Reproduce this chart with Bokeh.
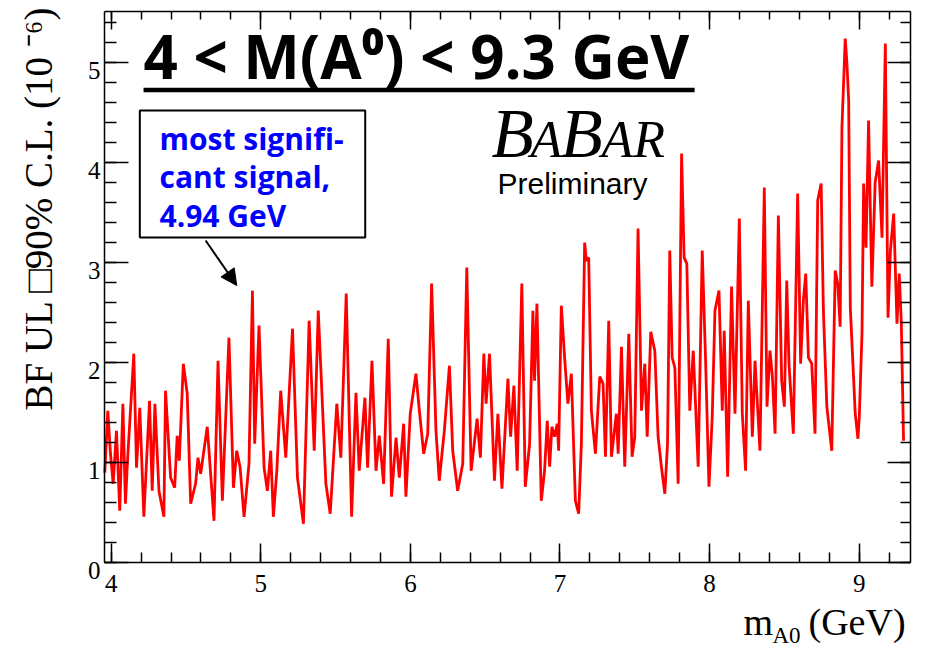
import math
from bokeh.plotting import figure
from bokeh.models import (Range1d, LinearAxis, SingleIntervalTicker, Label, LabelSet,
                          BoxAnnotation, Arrow, NormalHead, CustomLabelingPolicy,
                          ColumnDataSource)
from bokeh.embed import file_html
from bokeh.resources import INLINE

# ---- data (mass in GeV, BF upper limit in 1e-6) ----
mass = [
    3.957, 3.977, 3.995, 4.013, 4.035, 4.057, 4.078, 4.095, 4.110, 4.151,
    4.169, 4.191, 4.218, 4.256, 4.274, 4.292, 4.319, 4.352, 4.363, 4.397,
    4.424, 4.441, 4.455, 4.482, 4.508, 4.531, 4.564, 4.580, 4.598, 4.642,
    4.687, 4.714, 4.743, 4.787, 4.817, 4.839, 4.861, 4.888, 4.921, 4.944,
    4.959, 4.988, 5.022, 5.044, 5.066, 5.084, 5.107, 5.133, 5.167, 5.212,
    5.245, 5.285, 5.323, 5.357, 5.384, 5.401, 5.435, 5.464, 5.508, 5.535,
    5.571, 5.607, 5.636, 5.658, 5.696, 5.714, 5.743, 5.770, 5.792, 5.821,
    5.852, 5.874, 5.904, 5.926, 5.955, 5.970, 5.999, 6.037, 6.060, 6.089,
    6.116, 6.142, 6.171, 6.193, 6.227, 6.261, 6.283, 6.316, 6.350, 6.377,
    6.406, 6.446, 6.468, 6.491, 6.506, 6.529, 6.562, 6.585, 6.612, 6.652,
    6.670, 6.692, 6.714, 6.745, 6.768, 6.797, 6.819, 6.830, 6.846, 6.875,
    6.897, 6.915, 6.931, 6.946, 6.964, 6.982, 6.991, 7.009, 7.031, 7.053,
    7.076, 7.103, 7.125, 7.143, 7.165, 7.176, 7.192, 7.210, 7.237, 7.266,
    7.288, 7.304, 7.326, 7.344, 7.377, 7.389, 7.411, 7.433, 7.460, 7.482,
    7.500, 7.522, 7.545, 7.567, 7.583, 7.607, 7.634, 7.656, 7.678, 7.701,
    7.719, 7.734, 7.750, 7.768, 7.790, 7.813, 7.830, 7.848, 7.868, 7.891,
    7.924, 7.951, 7.973, 7.996, 8.018, 8.036, 8.063, 8.085, 8.098, 8.121,
    8.147, 8.170, 8.199, 8.219, 8.241, 8.259, 8.286, 8.304, 8.337, 8.366,
    8.384, 8.404, 8.420, 8.438, 8.460, 8.482, 8.500, 8.516, 8.531, 8.560,
    8.589, 8.609, 8.627, 8.643, 8.661, 8.683, 8.705, 8.723, 8.746, 8.761,
    8.784, 8.817, 8.840, 8.857, 8.873, 8.885, 8.907, 8.918, 8.930, 8.941,
    8.974, 8.992, 9.001, 9.019, 9.030, 9.046, 9.063, 9.085, 9.107, 9.130,
    9.153, 9.175, 9.193, 9.209, 9.231, 9.253, 9.268, 9.282, 9.297,
]
bf_ul = [
    0.90, 1.52, 1.09, 0.79, 1.32, 0.52, 1.59, 0.59, 1.05, 2.09,
    0.95, 1.55, 0.46, 1.62, 0.72, 1.59, 0.72, 0.46, 1.72, 0.85,
    0.75, 1.27, 1.02, 1.99, 1.69, 0.59, 0.79, 1.05, 0.89, 1.36,
    0.42, 2.02, 0.62, 2.25, 0.75, 1.12, 0.96, 0.46, 0.99, 2.72,
    1.19, 2.37, 0.95, 0.72, 1.12, 0.46, 0.92, 1.72, 1.05, 2.34,
    0.85, 0.39, 2.42, 1.12, 2.52, 1.95, 0.79, 0.49, 1.59, 1.05,
    2.69, 0.46, 1.70, 0.92, 1.65, 0.95, 2.02, 0.92, 1.27, 0.79,
    2.24, 0.66, 1.25, 0.85, 1.39, 0.66, 1.49, 1.89, 1.52, 1.09,
    1.29, 2.79, 1.32, 0.82, 1.32, 1.97, 1.12, 0.72, 0.99, 2.95,
    0.92, 1.44, 1.05, 2.09, 1.59, 2.09, 0.82, 1.49, 0.74, 1.84,
    1.26, 1.77, 0.92, 2.79, 0.76, 1.19, 2.52, 1.82, 2.59, 0.62,
    0.92, 1.42, 0.96, 1.36, 1.26, 1.39, 1.12, 2.57, 2.05, 1.59,
    1.89, 0.62, 0.49, 1.19, 3.20, 3.02, 3.05, 1.52, 1.09, 1.86,
    1.79, 1.06, 2.42, 1.06, 1.49, 1.09, 2.16, 0.96, 2.29, 1.06,
    1.26, 3.34, 1.52, 1.99, 1.26, 2.31, 2.12, 1.26, 0.96, 0.69,
    1.19, 3.12, 2.05, 1.95, 0.79, 4.09, 3.05, 2.99, 1.52, 2.12,
    0.96, 3.12, 2.05, 0.76, 1.46, 2.52, 2.72, 1.52, 2.32, 0.86,
    2.76, 1.49, 3.44, 1.49, 0.92, 2.62, 1.26, 2.02, 1.12, 3.75,
    1.56, 2.12, 1.86, 1.29, 3.47, 1.82, 1.56, 2.82, 1.99, 1.29,
    3.69, 1.99, 2.62, 2.89, 2.05, 1.99, 1.29, 3.62, 3.79, 2.52,
    1.56, 1.12, 2.92, 2.79, 2.36, 4.35, 5.24, 5.00, 4.62, 2.55,
    1.49, 1.24, 1.46, 2.29, 3.79, 3.15, 4.42, 2.76, 3.80, 4.02,
    3.25, 5.19, 2.45, 3.12, 3.49, 2.39, 2.89, 2.39, 1.22,
]
y_tick_values = [0, 1, 2, 3, 4, 5]
y_tick_labels = ["0", "1", "2", "3", "4", "5"]

# axis limits of the drawn frame
x_lo, x_hi = 3.955, 9.34
y_lo, y_hi = 0.0, 5.51

# page geometry (pixels): the plot area covers the whole canvas, the ROOT-like
# frame is drawn with axes fixed at the data limits
W, H = 933, 650
F_L, F_R, F_T, F_B = 104.0, 909.5, 11.0, 562.3
dx = (x_hi - x_lo) / (F_R - F_L)
dy = (y_hi - y_lo) / (F_B - F_T)
xr = Range1d(x_lo - F_L * dx, x_hi + (W - F_R) * dx)
yr = Range1d(y_lo - (H - F_B) * dy, y_hi + F_T * dy)

SERIF = "Liberation Serif"

p = figure(width=W, height=H, output_backend="svg", toolbar_location=None,
           x_range=xr, y_range=yr, x_axis_location=None, y_axis_location=None,
           min_border=0)
p.grid.visible = False
p.background_fill_color = "white"
p.border_fill_color = "white"
p.outline_line_color = None

hide_all = CustomLabelingPolicy(code="""
for (const i of indices) { indices.unset(i) }
return indices
""")


def make_axis(loc, bounds, major, minor, show_labels, standoff):
    ax = LinearAxis(ticker=SingleIntervalTicker(interval=1, num_minor_ticks=5),
                    fixed_location=loc, bounds=bounds)
    ax.axis_line_color = "black"
    ax.axis_line_width = 1.5
    ax.major_tick_line_color = "black"
    ax.minor_tick_line_color = "black"
    ax.major_tick_line_width = 1.5
    ax.minor_tick_line_width = 1.5
    ax.major_tick_in = major
    ax.major_tick_out = 0
    ax.minor_tick_in = minor
    ax.minor_tick_out = 0
    ax.major_label_text_font = SERIF
    ax.major_label_text_font_size = "25px"
    ax.major_label_text_color = "black"
    ax.major_label_standoff = standoff
    if not show_labels:
        ax.major_label_policy = hide_all
    return ax


p.add_layout(make_axis(x_lo, (y_lo, y_hi), 24, 12, False, 0), "left")
p.add_layout(make_axis(x_hi, (y_lo, y_hi), 23, 10, False, 0), "right")
p.add_layout(make_axis(y_lo, (x_lo, x_hi), 19, 10, True, 12), "below")
p.add_layout(make_axis(y_hi, (x_lo, x_hi), 18, 8, False, 0), "above")

# y tick labels (sit slightly below their ticks, as in the reference)
ysrc = ColumnDataSource(dict(x=[x_lo] * len(y_tick_values), y=y_tick_values,
                             t=y_tick_labels))
p.add_layout(LabelSet(x="x", y="y", text="t", source=ysrc, x_offset=-4, y_offset=-8,
                      text_align="right", text_baseline="middle", text_font=SERIF,
                      text_font_size="25px", text_color="black"))

# curve
p.line(mass, bf_ul, line_color="#FF0000", line_width=2.8)


def lab(text, cx, cy_base, fs, font, k, **kw):
    """Label whose alphabetic baseline sits at canvas pixel (cx, cy_base)."""
    return Label(x=cx, y=H - (cy_base - k * fs), x_units="screen", y_units="screen",
                 text=text, text_font=font, text_font_size=f"{fs}px",
                 text_align="left", text_baseline="alphabetic", **kw)


K_SERIF, K_SANS, K_OPEN = 0.3375, 0.347, 0.388

# y-axis title (rotated)
p.add_layout(Label(x=51 - K_SERIF * 39, y=H - 410, x_units="screen", y_units="screen",
                   angle=math.pi / 2, text="BF UL \u25a190% C.L. (10 \u207b\u2076)",
                   text_font=SERIF, text_font_size="39px", text_color="black",
                   text_align="left", text_baseline="alphabetic"))
# x-axis title
p.add_layout(lab("m", 743, 634, 38, SERIF, K_SERIF, text_color="black"))
p.add_layout(lab("A0", 772, 643, 23, SERIF, K_SERIF, text_color="black"))
p.add_layout(lab("(GeV)", 808, 634, 38, SERIF, K_SERIF, text_color="black"))

# headline with underline
p.add_layout(lab("4 < M(A\u2070) < 9.3 GeV", 143, 79, 60, "Open Sans", K_OPEN,
                 text_font_style="bold", text_color="black"))
p.add_layout(BoxAnnotation(left=4.216, right=7.90, bottom=4.703, top=4.747,
                           fill_color="black", fill_alpha=1.0, line_color="black",
                           line_width=0))

# comment box and arrow
p.add_layout(BoxAnnotation(left=4.191, right=5.698, bottom=3.251, top=4.520,
                           fill_color="white", fill_alpha=1.0, line_color="black",
                           line_width=2, line_alpha=1.0))
for txt, base in [("most signifi-", 150), ("cant signal,", 188), ("4.94 GeV", 227)]:
    p.add_layout(lab(txt, 159, base, 30, "Open Sans", K_OPEN,
                     text_font_style="bold", text_color="#0000FF"))
p.add_layout(Arrow(x_start=4.631, y_start=3.221, x_end=4.839, y_end=2.771,
                   line_color="black", line_width=2,
                   end=NormalHead(size=16, fill_color="black", line_color="black")))

# BaBar logo
for txt, cx, fs in [("B", 491, 69), ("A", 530, 52), ("B", 560, 69), ("AR", 601, 52)]:
    p.add_layout(lab(txt, cx, 157, fs, SERIF, K_SERIF, text_font_style="italic",
                     text_color="black"))
p.add_layout(lab("Preliminary", 497, 193, 30, "Liberation Sans", K_SANS,
                 text_color="black"))

open("out.html", "w").write(file_html(p, INLINE))
